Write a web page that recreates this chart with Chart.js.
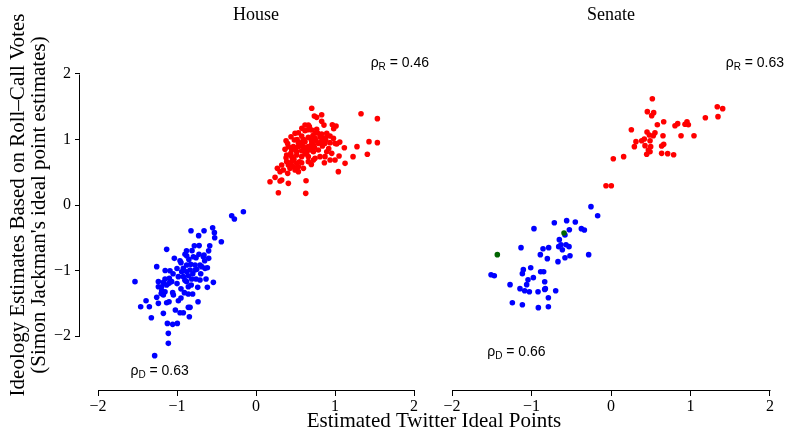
<!DOCTYPE html>
<html>
<head>
<meta charset="utf-8">
<script src="https://cdn.jsdelivr.net/npm/chart.js@4/dist/chart.umd.min.js"></script>
<style>
html,body{margin:0;padding:0;background:#fff;}
#wrap{position:relative;width:786px;height:432px;}
</style>
</head>
<body>
<div id="wrap"><canvas id="c" width="786" height="432"></canvas></div>
<script>
// ---------- data ----------
const tickValues = [-2, -1, 0, 1, 2];
const panelTitles = ['House', 'Senate'];
const xTitle = 'Estimated Twitter Ideal Points';
const yTitleLines = ['Ideology Estimates Based on Roll\u2013Call Votes', "(Simon Jackman's ideal point estimates)"];

const houseRepX = [0.705,0.738,0.768,0.831,1.329,1.536,0.831,0.966,1.013,0.983,0.620,0.662,0.675,0.494,0.536,0.620,0.705,0.768,0.831,0.895,0.937,0.882,0.810,0.443,0.578,0.662,0.747,0.823,0.873,0.937,1.000,0.380,0.485,0.536,0.620,0.705,0.789,0.852,0.409,0.473,0.536,0.599,0.662,0.726,1.021,1.118,1.278,1.430,1.536,0.367,0.452,0.515,0.578,0.641,0.726,0.789,0.895,0.958,1.051,1.228,1.409,0.388,0.452,0.515,0.578,0.662,0.747,0.810,0.873,0.937,1.000,0.388,0.452,0.515,0.578,0.662,0.726,0.865,1.127,0.325,0.409,0.473,0.536,0.270,0.346,0.430,0.494,0.536,0.304,0.401,1.042,0.177,0.241,0.304,0.325,0.409,0.633,0.283,0.629,0.600,0.690,0.560,0.750,0.640,0.470,
  0.720,0.760,0.860,0.900,0.780,0.700,0.600,0.560,0.500,0.440,0.480,0.620,0.680,0.740,0.840,0.920,0.550,0.450,0.380,0.600,0.660,0.580,0.860,0.980,1.060,0.520,0.400,0.700];
const houseRepY = [1.476,1.359,1.338,1.379,1.394,1.318,1.277,1.226,1.206,1.165,1.221,1.221,1.196,1.094,1.104,1.135,1.145,1.155,1.084,1.094,1.053,0.992,1.043,1.043,1.053,1.033,1.018,0.967,0.941,0.952,0.941,0.982,0.992,0.952,0.967,0.941,0.941,0.941,0.891,0.891,0.891,0.891,0.891,0.916,0.931,0.875,0.891,0.967,0.952,0.850,0.840,0.814,0.829,0.840,0.814,0.840,0.814,0.789,0.748,0.738,0.774,0.763,0.738,0.763,0.738,0.738,0.712,0.738,0.738,0.687,0.687,0.662,0.662,0.636,0.646,0.662,0.687,0.646,0.636,0.611,0.611,0.585,0.585,0.560,0.534,0.560,0.534,0.509,0.509,0.483,0.509,0.356,0.422,0.366,0.382,0.331,0.371,0.188,0.178,1.000,0.860,0.950,1.100,0.790,0.700,
  1.060,0.980,1.020,1.060,1.100,0.990,1.000,0.930,0.860,0.790,0.700,0.780,0.840,0.880,0.900,0.860,0.660,0.600,0.720,0.560,1.150,1.170,1.220,1.020,0.960,1.000,0.940,0.620];

const houseDemX = [-0.160,-0.308,-0.274,-0.549,-0.658,-0.823,-0.527,-0.726,-0.523,-0.439,-0.781,-0.586,-1.131,-0.810,-0.899,-0.878,-0.722,-0.658,-0.599,-0.667,-0.793,-0.759,-1.034,-0.962,-0.827,-0.878,-0.772,-0.709,-1.257,-1.089,-0.920,-0.646,-0.688,-0.616,-0.941,-0.878,-0.835,-0.772,-0.983,-0.920,-0.857,-0.814,-0.759,-0.709,-0.633,-1.152,-1.097,-1.068,-1.173,-1.532,-1.236,-0.878,-0.540,-1.236,-1.194,-1.131,-1.101,-0.857,-0.738,-0.616,-1.194,-1.152,-1.055,-1.046,-0.907,-0.857,-0.802,-1.173,-1.257,-1.392,-1.460,-1.350,-1.236,-1.131,-1.101,-0.983,-0.734,-0.857,-0.835,-1.021,-0.962,-0.920,-1.173,-1.325,-0.844,-1.122,-1.055,-0.996,-1.110,-1.110,-1.283,
  -0.950,-0.850,-1.000,-0.800,-0.750,-0.900,-1.000,-0.950,-0.820,-0.700,-0.650,-0.600,-1.050,-1.150,-0.880,-0.720,-0.950,-1.200];
const houseDemY = [-0.102,-0.163,-0.214,-0.346,-0.392,-0.392,-0.422,-0.468,-0.499,-0.560,-0.621,-0.621,-0.677,-0.697,-0.753,-0.774,-0.753,-0.763,-0.814,-0.789,-0.789,-0.804,-0.814,-0.850,-0.906,-0.916,-0.916,-0.916,-0.941,-1.003,-0.967,-0.967,-0.941,-0.957,-1.018,-1.018,-0.992,-0.992,-1.094,-1.094,-1.079,-1.130,-1.130,-1.145,-1.130,-1.130,-1.120,-1.170,-1.181,-1.170,-1.170,-1.170,-1.181,-1.247,-1.247,-1.221,-1.196,-1.247,-1.257,-1.257,-1.308,-1.323,-1.338,-1.374,-1.338,-1.359,-1.359,-1.374,-1.410,-1.461,-1.552,-1.552,-1.501,-1.491,-1.476,-1.461,-1.476,-1.562,-1.562,-1.603,-1.644,-1.644,-1.654,-1.720,-1.705,-1.807,-1.822,-1.807,-1.959,-2.112,-2.300,
  -0.880,-0.830,-0.970,-1.050,-0.980,-1.150,-1.200,-1.280,-1.220,-1.050,-0.850,-0.700,-1.050,-1.000,-0.700,-0.620,-1.420,-1.350];

const senateRepX = [0.520,0.457,0.537,0.512,1.337,1.405,1.187,1.346,0.663,0.583,0.805,0.839,0.931,0.956,0.973,0.256,0.453,0.553,0.482,0.532,0.654,0.881,1.044,0.314,0.386,0.419,0.491,0.294,0.428,0.499,0.470,0.491,0.449,0.637,0.663,0.637,0.713,0.788,0.029,0.159,-0.063,0.004];
const senateRepY = [1.623,1.425,1.410,1.364,1.501,1.471,1.333,1.349,1.272,1.226,1.211,1.242,1.232,1.272,1.226,1.150,1.115,1.104,1.069,1.058,1.058,1.058,1.058,0.967,0.982,1.008,0.982,0.891,0.906,0.891,0.840,0.814,0.774,0.901,0.926,0.789,0.784,0.768,0.707,0.738,0.295,0.295];

const senateDemX = [-0.252,-0.168,-0.713,-0.558,-0.449,-0.969,-0.524,-0.373,-0.335,-0.579,-0.650,-1.132,-0.855,-0.784,-0.629,-0.566,-0.528,-0.658,-0.612,-0.889,-0.516,-0.579,-0.801,-0.667,-0.281,-1.010,-1.103,-1.115,-0.885,-0.847,-1.509,-1.468,-0.977,-1.044,-0.834,-1.061,-1.270,-1.145,-1.086,-1.027,-0.918,-0.834,-0.826,-0.696,-0.788,-1.241,-1.115,-0.914,-0.788];
const senateDemY = [-0.025,-0.163,-0.270,-0.239,-0.260,-0.361,-0.377,-0.361,-0.382,-0.458,-0.529,-0.651,-0.667,-0.651,-0.606,-0.606,-0.636,-0.636,-0.682,-0.758,-0.774,-0.804,-0.819,-0.865,-0.758,-0.957,-0.987,-1.048,-1.018,-1.018,-1.064,-1.079,-1.109,-1.140,-1.171,-1.216,-1.216,-1.277,-1.308,-1.323,-1.323,-1.288,-1.277,-1.308,-1.415,-1.491,-1.522,-1.567,-1.552];

const senateIndX = [-0.591,-1.430];
const senateIndY = [-0.427,-0.758];

// rho annotations
const rhoPanel = ['x','x','x2','x2'];
const rhoX = [1.82,-1.22,1.81,-1.19];
const rhoY = [2.18,-2.52,2.18,-2.23];
const rhoSub = ['R','D','R','D'];
const rhoVal = ['0.46','0.63','0.63','0.66'];

// ---------- build ----------
const zip = (xs, ys) => xs.map((x, i) => ({x: x, y: ys[i]}));
const SERIF = '"Liberation Serif", "Times New Roman", serif';
const SANS = '"Liberation Sans", Arial, sans-serif';
const fmt = v => (v < 0 ? '\u2212' + Math.abs(v) : String(v));

function ds(data, color, xAxisID, order) {
  return {data: data, xAxisID: xAxisID, yAxisID: 'y', backgroundColor: color, borderColor: color, order: order,
    pointRadius: 2.8, pointHoverRadius: 0, pointBorderWidth: 0, borderWidth: 0, showLine: false};
}

function xScale(min, max) {
  return {
    type: 'linear', position: 'bottom', stack: 'panels', stackWeight: 1,
    min: min, max: max, offset: false,
    afterBuildTicks: s => { s.ticks = tickValues.map(v => ({value: v})); },
    afterFit: s => { s.height = 42; s.paddingLeft = 0; s.paddingRight = 0; },
    grid: {drawOnChartArea: false, drawTicks: true, tickLength: 6, color: '#000', lineWidth: 1},
    border: {display: false},
    ticks: {color: '#000', font: {family: SERIF, size: 16}, padding: 1, maxRotation: 0, autoSkip: false,
      callback: v => fmt(v)}
  };
}

const axisPlugin = {
  id: 'axes',
  afterDraw(chart) {
    const ctx = chart.ctx;
    ctx.save();
    ctx.strokeStyle = '#000';
    ctx.lineWidth = 1;
    const first = tickValues[0], last = tickValues[tickValues.length - 1];
    ['x', 'x2'].forEach(id => {
      const s = chart.scales[id];
      const y = Math.round(s.top) + 0.5;
      ctx.beginPath();
      ctx.moveTo(Math.round(s.getPixelForValue(first)) + 0.5, y);
      ctx.lineTo(Math.round(s.getPixelForValue(last)) + 0.5, y);
      ctx.stroke();
    });
    const ys = chart.scales.y;
    const x = Math.round(ys.right) - 0.5;
    ctx.beginPath();
    ctx.moveTo(x, Math.round(ys.getPixelForValue(last)) + 0.5);
    ctx.lineTo(x, Math.round(ys.getPixelForValue(first)) + 0.5);
    ctx.stroke();

    ctx.fillStyle = '#000';
    ctx.font = '18px ' + SERIF;
    ctx.textAlign = 'center';
    ctx.textBaseline = 'middle';
    ['x', 'x2'].forEach((id, i) => {
      const s = chart.scales[id];
      ctx.fillText(panelTitles[i], s.getPixelForValue(0), 15);
    });
    ctx.font = '21px ' + SERIF;
    const x1 = chart.scales.x, x2 = chart.scales.x2;
    const cx = (x1.getPixelForValue(first) + x2.getPixelForValue(last)) / 2;
    ctx.fillText(xTitle, cx, 421);
    const cy = (ys.getPixelForValue(first) + ys.getPixelForValue(last)) / 2;
    ctx.save();
    ctx.translate(18, cy);
    ctx.rotate(-Math.PI / 2);
    ctx.fillText(yTitleLines[0], 0, 0);
    ctx.restore();
    ctx.save();
    ctx.translate(39, cy);
    ctx.rotate(-Math.PI / 2);
    ctx.fillText(yTitleLines[1], 0, 0);
    ctx.restore();

    ctx.textAlign = 'left';
    ctx.textBaseline = 'alphabetic';
    rhoX.forEach((v, i) => {
      const sx = chart.scales[rhoPanel[i]];
      const px = sx.getPixelForValue(v);
      const py = ys.getPixelForValue(rhoY[i]);
      const big = '14px ' + SANS, small = '10px ' + SANS;
      ctx.font = big; const w1 = ctx.measureText('\u03c1').width;
      ctx.font = small; const w2 = ctx.measureText(rhoSub[i]).width;
      ctx.font = big; const w3 = ctx.measureText(' = ' + rhoVal[i]).width;
      const start = px - (w1 + w2 + w3) / 2;
      const base = py + 5;
      ctx.font = big; ctx.fillText('\u03c1', start, base);
      ctx.font = small; ctx.fillText(rhoSub[i], start + w1, base + 3);
      ctx.font = big; ctx.fillText(' = ' + rhoVal[i], start + w1 + w2, base);
    });
    ctx.restore();
  }
};

new Chart(document.getElementById('c'), {
  type: 'scatter',
  data: {
    datasets: [
      ds(zip(houseRepX, houseRepY), '#ff0000', 'x', 1),
      ds(zip(houseDemX, houseDemY), '#0000ff', 'x', 1),
      ds(zip(senateRepX, senateRepY), '#ff0000', 'x2', 1),
      ds(zip(senateDemX, senateDemY), '#0000ff', 'x2', 1),
      ds(zip(senateIndX, senateIndY), '#006400', 'x2', 0)
    ]
  },
  options: {
    responsive: false,
    animation: false,
    devicePixelRatio: 1,
    layout: {padding: {top: 40, left: 0, right: 6, bottom: 0}},
    plugins: {legend: {display: false}, tooltip: {enabled: false}, title: {display: false}},
    scales: {
      x: xScale(-2.228, 2.202),
      x2: xScale(-2.277, 2.126),
      y: {
        type: 'linear', position: 'left',
        min: -2.824, max: 2.519,
        afterBuildTicks: s => { s.ticks = tickValues.map(v => ({value: v})); },
        afterFit: s => { s.width = 80; },
        grid: {drawOnChartArea: false, drawTicks: true, tickLength: 5, color: '#000', lineWidth: 1},
        border: {display: false},
        ticks: {color: '#000', font: {family: SERIF, size: 16}, padding: 4, autoSkip: false,
          callback: v => fmt(v)}
      }
    }
  },
  plugins: [axisPlugin]
});
</script>
</body>
</html>
